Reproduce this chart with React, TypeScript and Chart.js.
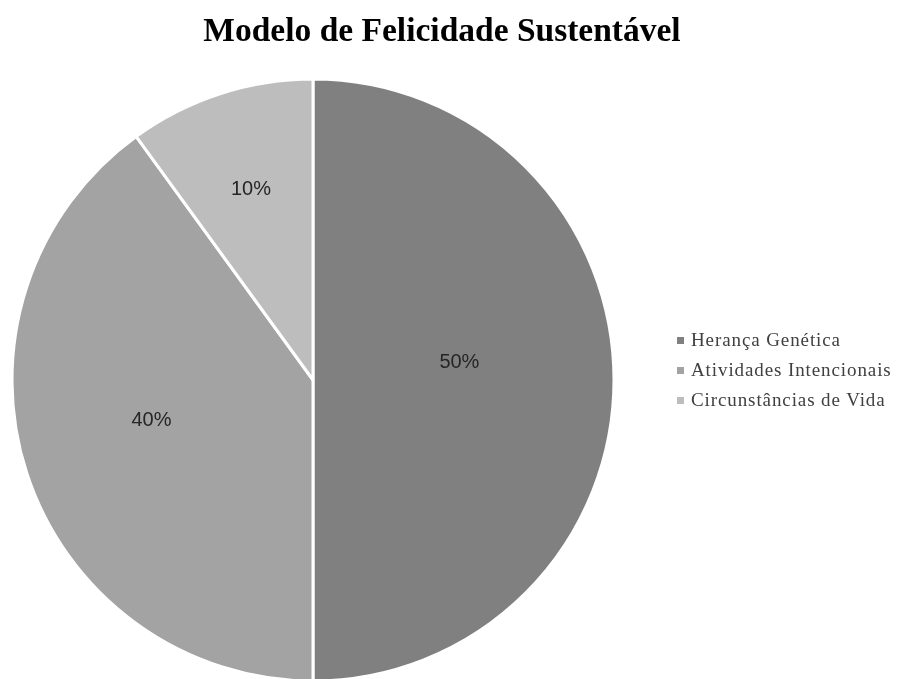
import React, { useEffect, useRef } from "react";
import { Chart, registerables } from "chart.js";

Chart.register(...registerables);

const title = "Modelo de Felicidade Sustentável";
const categories = ["Herança Genética", "Atividades Intencionais", "Circunstâncias de Vida"];
const values = [50, 40, 10];
const colors = ["#808080", "#a3a3a3", "#bdbdbd"];

// label placement style per slice (fraction of radius, angle shift in degrees)
const labelRadiusFrac = [0.49, 0.553, 0.667];
const labelAngleShift = [-7, 4, 0];

const pctLabels = {
  id: "pctLabels",
  afterDatasetsDraw(chart: any) {
    const meta = chart.getDatasetMeta(0);
    const ds = chart.data.datasets[0].data as number[];
    const total = ds.reduce((a, b) => a + b, 0);
    const ctx = chart.ctx;
    ctx.save();
    ctx.font = '20px "Liberation Sans", Arial, sans-serif';
    ctx.fillStyle = "#262626";
    ctx.textAlign = "center";
    ctx.textBaseline = "middle";
    meta.data.forEach((arc: any, i: number) => {
      const p = arc.getProps(["x", "y", "startAngle", "endAngle", "outerRadius"], true);
      const mid = (p.startAngle + p.endAngle) / 2 + (labelAngleShift[i] * Math.PI) / 180;
      const r = p.outerRadius * labelRadiusFrac[i];
      const x = p.x + Math.cos(mid) * r;
      const y = p.y + Math.sin(mid) * r;
      ctx.fillText(Math.round((ds[i] / total) * 100) + "%", x, y);
    });
    ctx.restore();
  },
};

export default function App() {
  const ref = useRef<HTMLCanvasElement | null>(null);
  useEffect(() => {
    if (!ref.current) return;
    const chart = new Chart(ref.current, {
      type: "pie",
      data: {
        labels: categories,
        datasets: [
          {
            data: values,
            backgroundColor: colors,
            borderColor: "#ffffff",
            borderWidth: 3,
            radius: 301,
          },
        ],
      },
      options: {
        responsive: false,
        animation: false,
        devicePixelRatio: 1,
        layout: { padding: { left: 13, top: 80, right: 288, bottom: 20 } },
        plugins: {
          legend: { display: false },
          title: { display: false },
          tooltip: { enabled: false },
        },
      },
      plugins: [pctLabels],
    });
    return () => chart.destroy();
  }, []);

  return (
    <div style={{ position: "fixed", left: 0, top: 0, width: 901, height: 679, overflow: "hidden", background: "#fff" }}>
      <canvas ref={ref} width={901} height={700} style={{ position: "absolute", left: 0, top: 0, width: 901, height: 700 }} />
      <div
        style={{
          position: "absolute",
          left: 0,
          width: 884,
          top: 11,
          textAlign: "center",
          font: 'bold 33.5px "Liberation Serif", "Times New Roman", serif',
          color: "#000",
          lineHeight: "38px",
          whiteSpace: "nowrap",
        }}
      >
        {title}
      </div>
      {categories.map((c, i) => (
        <div key={c} style={{ position: "absolute", left: 677, top: 330 + i * 30, height: 20, display: "flex", alignItems: "center", whiteSpace: "nowrap" }}>
          <span style={{ display: "inline-block", width: 7, height: 7, background: colors[i], marginRight: 7 }} />
          <span style={{ font: '19px "Liberation Serif", "Times New Roman", serif', color: "#404040", letterSpacing: "0.9px" }}>{c}</span>
        </div>
      ))}
    </div>
  );
}
